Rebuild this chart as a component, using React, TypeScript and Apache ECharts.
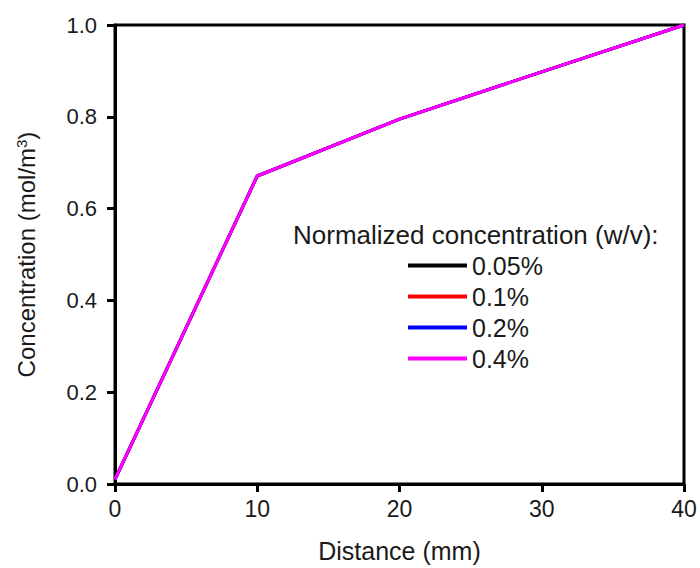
import React, { useEffect, useRef } from "react";
import * as echarts from "echarts";

const distance = [0, 10, 20, 30, 40];
const conc005 = [0.01, 0.671, 0.795, 0.898, 1.0];
const conc01 = [0.01, 0.671, 0.795, 0.898, 1.0];
const conc02 = [0.01, 0.671, 0.795, 0.898, 1.0];
const conc04 = [0.01, 0.671, 0.795, 0.898, 1.0];
const seriesNames = ["0.05%", "0.1%", "0.2%", "0.4%"];
const seriesColors = ["#000000", "#ff0000", "#0000ff", "#ff00ff"];
const seriesValues = [conc005, conc01, conc02, conc04];

const FONT = "'Liberation Sans', Arial, sans-serif";
const TXT = "#1a1a1a";

export default function App() {
  const ref = useRef<HTMLDivElement>(null);
  useEffect(() => {
    if (!ref.current) return;
    const chart = echarts.init(ref.current, undefined, { renderer: "svg" });
    chart.setOption({
      animation: false,
      backgroundColor: "#ffffff",
      textStyle: { fontFamily: FONT, color: TXT },
      grid: {
        left: 115,
        top: 25,
        right: 16,
        bottom: 84,
        show: true,
        borderColor: "#000",
        borderWidth: 3,
      },
      xAxis: {
        type: "value",
        min: 0,
        max: 40,
        interval: 10,
        name: "Distance (mm)",
        nameLocation: "middle",
        nameGap: 54,
        nameTextStyle: { fontSize: 25, color: TXT, fontFamily: FONT },
        axisLine: { show: true, lineStyle: { color: "#000", width: 3 } },
        axisTick: { show: true, inside: false, length: 8, lineStyle: { color: "#000", width: 3 } },
        axisLabel: { fontSize: 23, color: TXT, margin: 13, fontFamily: FONT },
        splitLine: { show: false },
      },
      yAxis: {
        type: "value",
        min: 0,
        max: 1,
        interval: 0.2,
        name: "{a|Concentration (mol/m}{b|3}{a|)}",
        nameLocation: "middle",
        nameGap: 76,
        nameRotate: 90,
        nameTextStyle: {
          fontFamily: FONT,
          color: TXT,
          rich: {
            a: { fontSize: 24, color: TXT, fontFamily: FONT },
            b: { fontSize: 15, color: TXT, fontFamily: FONT, verticalAlign: "top", padding: [0, 0, 10, 0] },
          },
        },
        axisLine: { show: true, lineStyle: { color: "#000", width: 3 } },
        axisTick: { show: true, inside: false, length: 8, lineStyle: { color: "#000", width: 3 } },
        axisLabel: {
          fontSize: 22,
          color: TXT,
          margin: 18,
          fontFamily: FONT,
          formatter: (v: number) => v.toFixed(1),
        },
        splitLine: { show: false },
      },
      legend: {
        orient: "vertical",
        left: 408,
        top: 253,
        itemWidth: 59,
        itemHeight: 4,
        itemGap: 6,
        padding: 0,
        icon: "rect",
        textStyle: { fontSize: 25, color: TXT, fontFamily: FONT },
        data: seriesNames,
      },
      graphic: [
        {
          type: "text",
          left: 293,
          top: 222,
          style: {
            text: "Normalized concentration (w/v):",
            fontSize: 26,
            fill: TXT,
            fontFamily: FONT,
          },
        },
      ],
      series: seriesNames.map((n, i) => ({
        name: n,
        type: "line",
        symbol: "none",
        data: distance.map((d, j) => [d, seriesValues[i][j]]),
        lineStyle: { color: seriesColors[i], width: 3 },
        itemStyle: { color: seriesColors[i] },
      })),
    });
    return () => chart.dispose();
  }, []);
  return <div ref={ref} style={{ width: 700, height: 568, position: "absolute", left: 0, top: 0 }} />;
}
